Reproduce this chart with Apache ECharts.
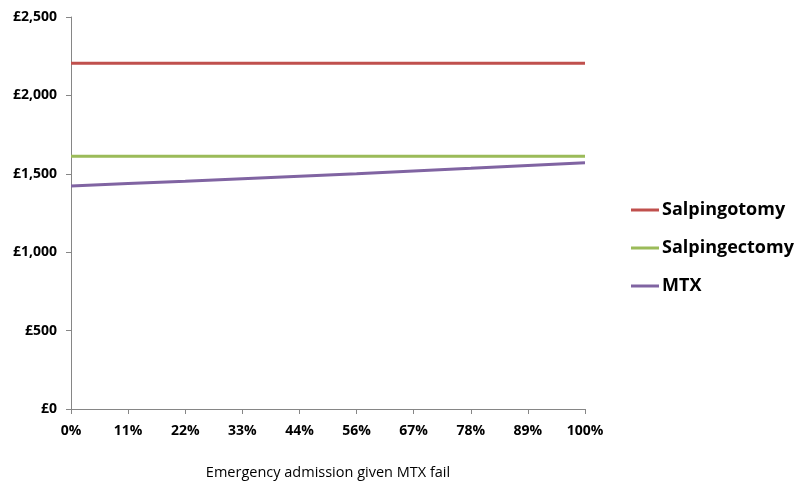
<!DOCTYPE html>
<html><head><meta charset="utf-8">
<script src="https://cdn.jsdelivr.net/npm/echarts@6/dist/echarts.min.js"></script>
<style>html,body{margin:0;padding:0;background:#fff}#c{width:806px;height:485px}</style>
</head><body><div id="c"></div>
<script>
const categories = ['0%','11%','22%','33%','44%','56%','67%','78%','89%','100%'];
const salpingotomy = [2205,2205,2205,2205,2205,2205,2205,2205,2205,2205];
const salpingectomy = [1612,1612,1612,1612,1612,1612,1612,1612,1612,1612];
const mtx = [1422,1438,1453,1469,1485,1500,1518,1535,1553,1570];
const yTicks = ['£0','£500','£1,000','£1,500','£2,000','£2,500'];

const chart = echarts.init(document.getElementById('c'));
const font = '"Open Sans", "Noto Sans", sans-serif';
chart.setOption({
  animation:false,
  textStyle:{fontFamily:font},
  grid:{left:71,right:221,top:17,bottom:76,containLabel:false,outerBoundsMode:'none'},
  legend:{
    orient:'vertical', left:626, top:196, itemGap:20,
    icon:'rect', itemWidth:28, itemHeight:3,
    textStyle:{fontFamily:font,fontSize:18,fontWeight:'bold',color:'#000',padding:[0,0,0,-2]},
    data:['Salpingotomy','Salpingectomy','MTX']
  },
  xAxis:{
    type:'category', data:categories, boundaryGap:false,
    name:'Emergency admission given MTX fail', nameLocation:'middle', nameGap:56,
    nameTextStyle:{fontFamily:font,fontSize:14.5,color:'#000'},
    axisLine:{lineStyle:{color:'#868686'}},
    axisTick:{show:true,length:5,lineStyle:{color:'#868686'}},
    axisLabel:{fontFamily:font,fontSize:14,fontWeight:'bold',color:'#000',margin:15,interval:0},
    splitLine:{show:false}
  },
  yAxis:{
    type:'value', min:0, max:2500, interval:500,
    axisLine:{show:true,lineStyle:{color:'#868686'}},
    axisTick:{show:true,length:5,lineStyle:{color:'#868686'}},
    axisLabel:{fontFamily:font,fontSize:14,fontWeight:'bold',color:'#000',margin:14,
      formatter:function(v){return yTicks[Math.round(v/500)];}},
    splitLine:{show:false}
  },
  series:[
    {name:'Salpingotomy',type:'line',data:salpingotomy,symbol:'none',color:'#C0504D',lineStyle:{width:3,color:'#C0504D'}},
    {name:'Salpingectomy',type:'line',data:salpingectomy,symbol:'none',color:'#9BBB59',lineStyle:{width:3,color:'#9BBB59'}},
    {name:'MTX',type:'line',data:mtx,symbol:'none',color:'#8064A2',lineStyle:{width:3,color:'#8064A2'}}
  ]
});
</script></body></html>
